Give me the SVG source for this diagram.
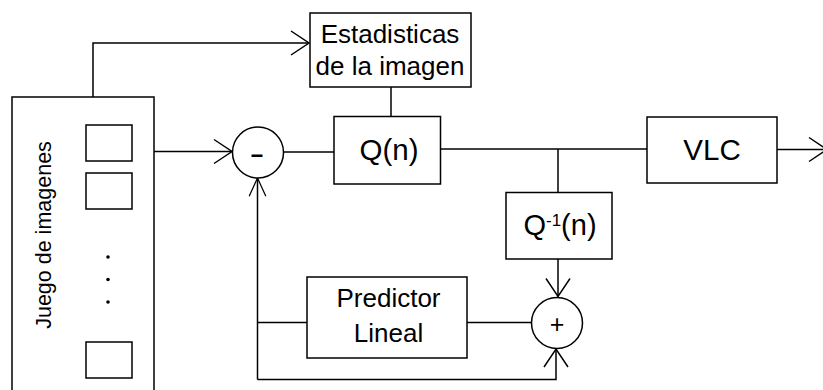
<svg xmlns="http://www.w3.org/2000/svg" width="823" height="390" viewBox="0 0 823 390">
  <style>
    .box { fill: #ffffff; stroke: #000000; stroke-width: 1.5; }
    .wire { fill: none; stroke: #000000; stroke-width: 1.5; }
    .lbl { font-family: "Liberation Sans", Arial, sans-serif; fill: #000000; text-anchor: middle; }
  </style>
  <defs>
    <marker id="open" markerUnits="userSpaceOnUse" markerWidth="40" markerHeight="40" refX="0" refY="0" viewBox="-20 -20 40 40" orient="auto" overflow="visible">
      <path d="M -18 -12 L 0 0 L -18 12" fill="none" stroke="#000000" stroke-width="1.5"/>
    </marker>
    <marker id="openLong" markerUnits="userSpaceOnUse" markerWidth="40" markerHeight="40" refX="0" refY="0" viewBox="-24 -20 48 40" orient="auto" overflow="visible">
      <path d="M -22 -10 L 0 0 L -22 10" fill="none" stroke="#000000" stroke-width="1.5"/>
    </marker>
  </defs>

  <!-- connectors -->
  <g id="connectors">
    <path class="wire" d="M 93 97 L 93 43 L 309 43" marker-end="url(#open)"/>
    <path class="wire" d="M 154 151.5 L 232 151.5" marker-end="url(#open)"/>
    <path class="wire" d="M 283 152 L 334 152"/>
    <path class="wire" d="M 391 87 L 391 116"/>
    <path class="wire" d="M 441 149 L 647 149"/>
    <path class="wire" d="M 777 149.5 L 827 149.5" marker-end="url(#open)"/>
    <path class="wire" d="M 558 149 L 558 192"/>
    <path class="wire" d="M 558 259 L 558 296.5" marker-end="url(#open)"/>
    <path class="wire" d="M 467 322.5 L 531.5 322.5"/>
    <path class="wire" d="M 307 322.5 L 257.5 322.5"/>
    <path class="wire" d="M 257.5 379.5 L 257.5 178" marker-end="url(#openLong)"/>
    <path class="wire" d="M 257.5 379.5 L 556 379.5 L 556 349" marker-end="url(#open)"/>
  </g>

  <!-- image set -->
  <g id="juego">
    <rect class="box" x="12" y="97" width="142" height="300"/>
    <rect class="box" x="86" y="125" width="46" height="36"/>
    <rect class="box" x="86" y="173" width="46" height="36"/>
    <rect class="box" x="86" y="342" width="46" height="36"/>
    <circle cx="108" cy="257" r="1.8" fill="#000000"/>
    <circle cx="108" cy="279.5" r="1.8" fill="#000000"/>
    <circle cx="108" cy="302" r="1.8" fill="#000000"/>
    <text class="lbl" font-size="21.5" transform="translate(51 235) rotate(-90)">Juego de imagenes</text>
  </g>

  <g id="estadisticas">
    <rect class="box" x="310" y="13" width="161" height="74"/>
    <text class="lbl" font-size="26" x="390" y="43.3">Estadisticas</text>
    <text class="lbl" font-size="26" x="390" y="74.5">de la imagen</text>
  </g>

  <g id="resta">
    <circle class="box" cx="258" cy="152.5" r="25.5"/>
    <text class="lbl" font-size="32" transform="translate(257 164) scale(1.4 1)">-</text>
  </g>

  <g id="q">
    <rect class="box" x="334" y="116.5" width="106.5" height="67.5"/>
    <text class="lbl" font-size="29.5" x="389" y="159.5">Q(n)</text>
  </g>

  <g id="vlc">
    <rect class="box" x="647" y="117" width="130" height="66"/>
    <text class="lbl" font-size="29.5" x="712" y="160">VLC</text>
  </g>

  <g id="qinv">
    <rect class="box" x="506" y="192.5" width="106" height="66.5"/>
    <text class="lbl" font-size="29" x="560" y="235">Q<tspan font-size="17" dy="-9">-1</tspan><tspan dy="9">(n)</tspan></text>
  </g>

  <g id="suma">
    <circle class="box" cx="557" cy="323" r="25.5"/>
    <text class="lbl" font-size="25" x="557" y="333">+</text>
  </g>

  <g id="predictor">
    <rect class="box" x="307" y="277" width="160" height="81"/>
    <text class="lbl" font-size="26" x="388.5" y="306.7">Predictor</text>
    <text class="lbl" font-size="26" x="388.5" y="341.7">Lineal</text>
  </g>
</svg>
